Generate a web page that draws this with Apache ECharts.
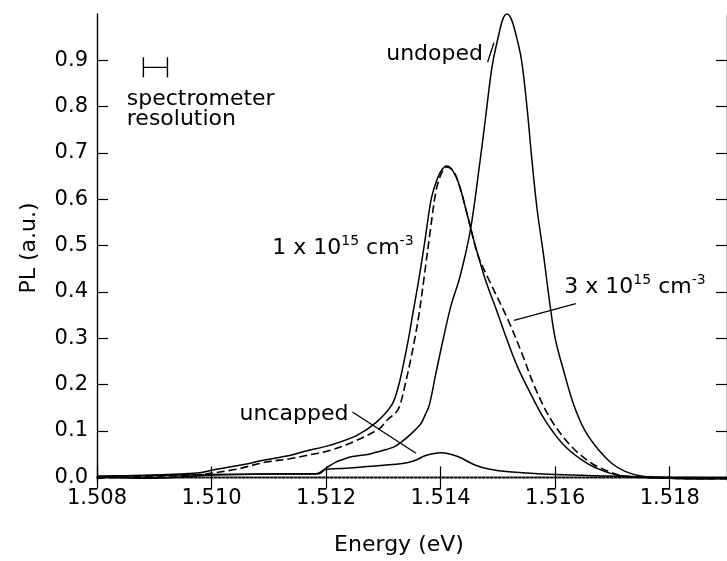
<!DOCTYPE html>
<html>
<head>
<meta charset="utf-8">
<script src="https://cdn.jsdelivr.net/npm/echarts@6/dist/echarts.min.js"></script>
<style>
html, body { margin: 0; padding: 0; background: #fff; }
#chart { width: 727px; height: 561px; }
</style>
</head>
<body>
<div id="chart"></div>
<script>
// tick labels
var xTicks = [1.508, 1.510, 1.512, 1.514, 1.516, 1.518];
var yTicks = [0.0, 0.1, 0.2, 0.3, 0.4, 0.5, 0.6, 0.7, 0.8, 0.9];

// undoped
var undopedE = [1.50800, 1.50900, 1.51002, 1.51100, 1.51182, 1.51200, 1.51217, 1.51228, 1.51246, 1.51275,
  1.51287, 1.51305, 1.51322, 1.51345, 1.51365, 1.51373, 1.51380, 1.51391, 1.51403, 1.51418,
  1.51434, 1.51452, 1.51468, 1.51479, 1.51490, 1.51502, 1.51509, 1.51516, 1.51523, 1.51531,
  1.51541, 1.51551, 1.51559, 1.51568, 1.51580, 1.51590, 1.51600, 1.51615, 1.51632, 1.51652,
  1.51676, 1.51699, 1.51722, 1.51750, 1.51801, 1.51850, 1.51900];
var undopedPL = [0.001, -0.002, 0.005, 0.007, 0.008, 0.020, 0.033, 0.038, 0.045, 0.050,
  0.054, 0.060, 0.068, 0.090, 0.115, 0.135, 0.155, 0.220, 0.290, 0.370,
  0.434, 0.534, 0.675, 0.782, 0.888, 0.958, 0.990, 1.000, 0.990, 0.958,
  0.902, 0.796, 0.690, 0.583, 0.477, 0.381, 0.300, 0.229, 0.158, 0.101,
  0.059, 0.030, 0.013, 0.003, -0.002, -0.003, -0.002];

// 1 x 10^15 cm^-3 (solid)
var dopedLowE = [1.50800, 1.50863, 1.50922, 1.50979, 1.51002, 1.51049, 1.51095, 1.51136, 1.51165, 1.51206,
  1.51253, 1.51287, 1.51315, 1.51327, 1.51336, 1.51344, 1.51351, 1.51360, 1.51371, 1.51383,
  1.51391, 1.51400, 1.51411, 1.51421, 1.51432, 1.51446, 1.51461, 1.51478, 1.51499, 1.51515,
  1.51532, 1.51552, 1.51583, 1.51618, 1.51656, 1.51686, 1.51719, 1.51801, 1.51900];
var dopedLowPL = [0.001, 0.004, 0.006, 0.010, 0.016, 0.026, 0.038, 0.047, 0.057, 0.069,
  0.090, 0.118, 0.157, 0.200, 0.250, 0.300, 0.350, 0.413, 0.498, 0.597,
  0.633, 0.660, 0.672, 0.662, 0.633, 0.569, 0.498, 0.427, 0.356, 0.300,
  0.245, 0.193, 0.122, 0.066, 0.030, 0.013, 0.003, -0.002, -0.003];

// 3 x 10^15 cm^-3 (dashed)
var dopedHighE = [1.50800, 1.50863, 1.50922, 1.50979, 1.51032, 1.51049, 1.51095, 1.51136, 1.51165, 1.51206,
  1.51246, 1.51293, 1.51305, 1.51324, 1.51331, 1.51338, 1.51347, 1.51355, 1.51362, 1.51371,
  1.51382, 1.51392, 1.51401, 1.51411, 1.51423, 1.51435, 1.51450, 1.51465, 1.51484, 1.51518,
  1.51543, 1.51565, 1.51594, 1.51629, 1.51664, 1.51693, 1.51719, 1.51801, 1.51900];
var dopedHighPL = [-0.002, 0.001, 0.003, 0.006, 0.015, 0.019, 0.033, 0.040, 0.047, 0.058,
  0.076, 0.105, 0.122, 0.143, 0.164, 0.200, 0.250, 0.300, 0.350, 0.430,
  0.533, 0.618, 0.655, 0.670, 0.660, 0.620, 0.550, 0.480, 0.427, 0.339,
  0.264, 0.193, 0.122, 0.066, 0.030, 0.013, 0.003, -0.002, -0.003];

// uncapped
var uncappedE = [1.50800, 1.50892, 1.51002, 1.51101, 1.51188, 1.51199, 1.51223, 1.51258, 1.51333, 1.51354,
  1.51374, 1.51400, 1.51414, 1.51432, 1.51461, 1.51484, 1.51519, 1.51600, 1.51693, 1.51801, 1.51900];
var uncappedPL = [0.003, 0.004, 0.006, 0.007, 0.008, 0.017, 0.019, 0.022, 0.030, 0.036,
  0.047, 0.053, 0.051, 0.044, 0.026, 0.018, 0.012, 0.006, 0.003, 0.000, -0.001];

// zero line, resolution bar, leader lines
var zeroLine = [[1.508, 0], [1.519, 0]];
var resBar = [[1.50881, 0.885], [1.50923, 0.885]];
var leadUndoped = [[1.51482, 0.896], [1.51493, 0.938]];
var leadHigh = [[1.51528, 0.339], [1.51636, 0.375]];
var leadUncapped = [[1.51246, 0.141], [1.51357, 0.052]];

function zip(xs, ys) {
  return xs.map(function (x, i) { return [x, ys[i]]; });
}

var FONT = "'DejaVu Sans', sans-serif";

var chart = echarts.init(document.getElementById('chart'));

function curve(name, xs, ys, dashed) {
  return {
    name: name,
    type: 'line',
    data: zip(xs, ys),
    smooth: 0.35,
    showSymbol: false,
    lineStyle: { color: '#000', width: dashed ? 1.6 : 1.5, type: dashed ? [8, 4] : 'solid' },
    z: 3
  };
}

function leader(data) {
  return {
    type: 'line',
    data: data,
    showSymbol: false,
    lineStyle: { color: '#000', width: 1.3 },
    z: 4
  };
}

var option = {
  animation: false,
  backgroundColor: '#fff',
  grid: { left: 97, top: 14, width: 632, height: 475, containLabel: false },
  xAxis: [
    {
      type: 'value', position: 'bottom', min: 1.508, max: 1.519,
      name: 'Energy (eV)', nameLocation: 'middle', nameGap: 52,
      nameTextStyle: { fontSize: 22, fontFamily: FONT, color: '#000', padding: [0, 26, 0, 0] },
      axisLine: { lineStyle: { color: '#000', width: 1.4 } },
      axisTick: { inside: true, length: 11, customValues: xTicks, lineStyle: { color: '#000', width: 1.2 } },
      axisLabel: {
        customValues: xTicks, margin: 6, fontSize: 21, fontFamily: FONT, color: '#000',
        formatter: function (v) { return v.toFixed(3); }
      },
      splitLine: { show: false }
    },
    {
      type: 'value', position: 'top', min: 1.508, max: 1.519,
      axisLine: { lineStyle: { color: '#000', width: 1.4 } },
      axisTick: { inside: true, length: 11, customValues: xTicks, lineStyle: { color: '#000', width: 1.2 } },
      axisLabel: { show: false },
      splitLine: { show: false }
    }
  ],
  yAxis: [
    {
      type: 'value', position: 'left', min: -0.01, max: 1.0,
      name: 'PL (a.u.)', nameLocation: 'middle', nameGap: 57,
      nameTextStyle: { fontSize: 22, fontFamily: FONT, color: '#000' },
      axisLine: { lineStyle: { color: '#000', width: 1.4 } },
      axisTick: { inside: true, length: 11, customValues: yTicks, lineStyle: { color: '#000', width: 1.2 } },
      axisLabel: {
        customValues: yTicks, margin: 9, fontSize: 21, fontFamily: FONT, color: '#000',
        formatter: function (v) { return v.toFixed(1); }
      },
      splitLine: { show: false }
    },
    {
      type: 'value', position: 'right', min: -0.01, max: 1.0,
      axisLine: { lineStyle: { color: '#000', width: 1.4 } },
      axisTick: { inside: true, length: 11, customValues: yTicks, lineStyle: { color: '#000', width: 1.2 } },
      axisLabel: { show: false },
      splitLine: { show: false }
    }
  ],
  series: [
    {
      type: 'line', data: zeroLine, showSymbol: false,
      lineStyle: { color: '#888', width: 1, type: [1, 3] }, z: 1
    },
    curve('undoped', undopedE, undopedPL, false),
    curve('1e15', dopedLowE, dopedLowPL, false),
    curve('3e15', dopedHighE, dopedHighPL, true),
    curve('uncapped', uncappedE, uncappedPL, false),
    {
      type: 'line', data: resBar, symbol: 'rect', symbolSize: [1.4, 20], showSymbol: true,
      itemStyle: { color: '#000' }, lineStyle: { color: '#000', width: 1.3 }, z: 4
    },
    leader(leadUndoped),
    leader(leadHigh),
    leader(leadUncapped)
  ]
};

chart.setOption(option);

// annotation texts anchored in data coordinates
var notes = [
  { at: [1.51305, 0.914], text: 'undoped' },
  { at: [1.51106, 0.494], text: '1 x 10{s|15} cm{s|-3}' },
  { at: [1.51616, 0.411], text: '3 x 10{s|15} cm{s|-3}' },
  { at: [1.51049, 0.136], text: 'uncapped' },
  { at: [1.50852, 0.816], text: 'spectrometer' },
  { at: [1.50852, 0.773], text: 'resolution' }
];

chart.setOption({
  graphic: notes.map(function (n) {
    var p = chart.convertToPixel({ xAxisIndex: 0, yAxisIndex: 0 }, n.at);
    return {
      type: 'text', x: p[0], y: p[1], z: 10,
      style: {
        text: n.text, fill: '#000', fontSize: 22, fontFamily: FONT,
        align: 'left', verticalAlign: 'middle', lineHeight: 28,
        rich: { s: { fontSize: 14, fontFamily: FONT, verticalAlign: 'top', lineHeight: 14 } }
      }
    };
  })
});
</script>
</body>
</html>
